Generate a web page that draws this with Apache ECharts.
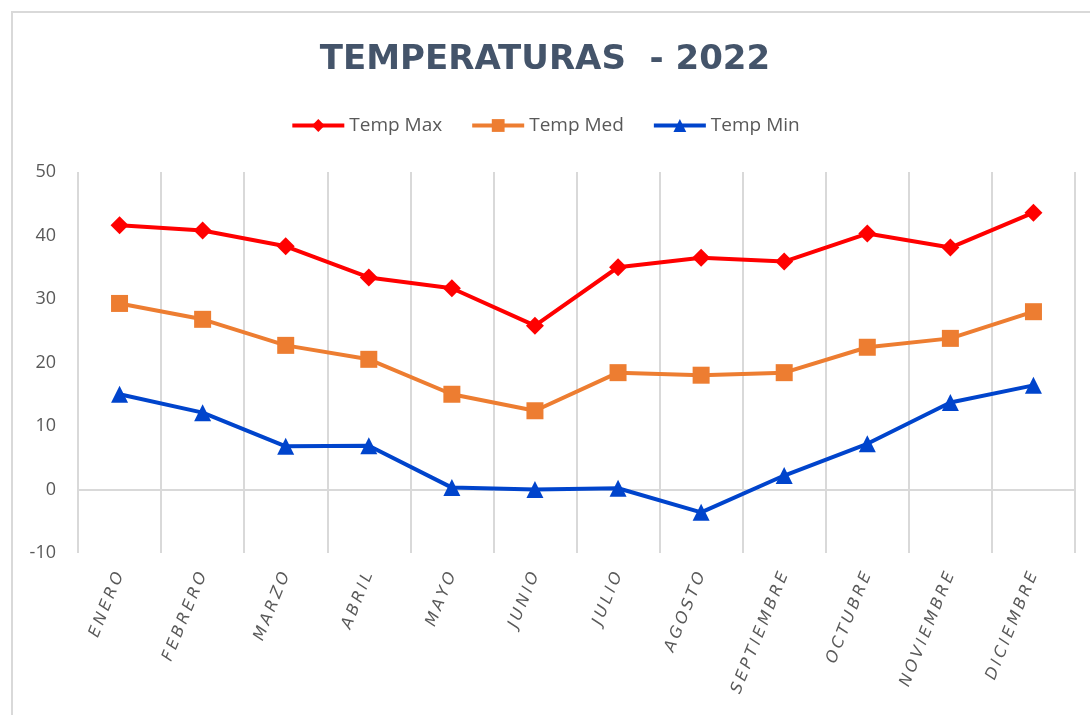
<!DOCTYPE html>
<html>
<head>
<meta charset="utf-8">
<script src="https://cdn.jsdelivr.net/npm/echarts@6/dist/echarts.min.js"></script>
<style>
  html, body { margin: 0; padding: 0; background: #fff; }
</style>
</head>
<body>
<div id="myCharts" style="width: 1090px; height: 715px;"></div>
<script>
  // categorías (meses)
  var meses = ['ENERO', 'FEBRERO', 'MARZO', 'ABRIL', 'MAYO', 'JUNIO', 'JULIO', 'AGOSTO', 'SEPTIEMBRE', 'OCTUBRE', 'NOVIEMBRE', 'DICIEMBRE'];
  var tempMax = [41.6, 40.8, 38.3, 33.4, 31.7, 25.8, 35.0, 36.5, 35.9, 40.3, 38.1, 43.6];
  var tempMed = [29.3, 26.8, 22.7, 20.5, 15.0, 12.4, 18.4, 18.0, 18.4, 22.4, 23.8, 28.0];
  var tempMin = [15.0, 12.1, 6.8, 6.9, 0.3, 0.0, 0.2, -3.6, 2.2, 7.2, 13.7, 16.4];

  var myCharts = echarts.init(document.getElementById('myCharts'));
  var options = {
    animation: false,
    graphic: [{
      type: 'rect',
      shape: { x: 12, y: 12, width: 1200, height: 800 },
      style: { fill: 'none', stroke: '#d9d9d9', lineWidth: 2 },
      silent: true
    }],
    title: {
      text: 'TEMPERATURAS  - 2022',
      left: 'center',
      top: 38,
      textStyle: {
        fontFamily: 'DejaVu Sans',
        fontSize: 34,
        fontWeight: 'bold',
        color: '#44546a'
      }
    },
    legend: {
      data: ['Temp Max', 'Temp Med', 'Temp Min'],
      top: 111,
      left: 'center',
      itemWidth: 52,
      itemHeight: 16,
      itemGap: 28,
      lineStyle: { width: 4 },
      textStyle: {
        fontFamily: 'Open Sans',
        fontSize: 19,
        color: '#595959'
      }
    },
    grid: {
      left: 78,
      right: 15,
      top: 172,
      bottom: 162,
      containLabel: false,
      outerBoundsMode: 'none'
    },
    xAxis: [{  // eje de categorías
      type: 'category',
      boundaryGap: true,
      data: meses,
      axisLine: { onZero: true, lineStyle: { color: '#d9d9d9', width: 2 } },
      axisTick: { show: false },
      splitLine: { show: true, lineStyle: { color: '#d9d9d9', width: 2 } },
      axisLabel: {
        rotate: 68,
        interval: 0,
        margin: 20,
        color: '#595959',
        fontFamily: 'DejaVu Sans',
        fontSize: 16,
        fontStyle: 'italic',
        formatter: function (v) { return v.split('').join('\u2009'); }
      }
    }],
    yAxis: [{
      type: 'value',
      min: -10,
      max: 50,
      interval: 10,
      axisLine: { show: false },
      axisTick: { show: false },
      splitLine: { show: false },
      axisLabel: {
        margin: 22,
        color: '#595959',
        fontFamily: 'Open Sans',
        fontSize: 18
      }
    }],
    series: [
      {
        name: 'Temp Max',
        type: 'line',
        data: tempMax,
        symbol: 'diamond',
        symbolSize: 18,
        itemStyle: { color: '#ff0000' },
        lineStyle: { color: '#ff0000', width: 4 }
      },
      {
        name: 'Temp Med',
        type: 'line',
        data: tempMed,
        symbol: 'rect',
        symbolSize: 17,
        itemStyle: { color: '#ed7d31' },
        lineStyle: { color: '#ed7d31', width: 4 }
      },
      {
        name: 'Temp Min',
        type: 'line',
        data: tempMin,
        symbol: 'triangle',
        symbolSize: 17,
        itemStyle: { color: '#0044cc' },
        lineStyle: { color: '#0044cc', width: 4 }
      }
    ]
  };
  myCharts.setOption(options);
</script>
</body>
</html>
